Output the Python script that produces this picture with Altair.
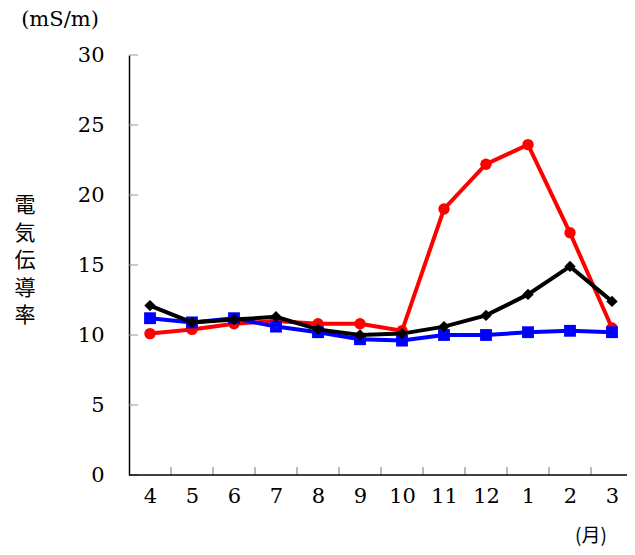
import altair as alt
import pandas as pd

months = ["4", "5", "6", "7", "8", "9", "10", "11", "12", "1", "2", "3"]
red_vals = [10.1, 10.4, 10.8, 11.0, 10.8, 10.8, 10.3, 19.0, 22.2, 23.6, 17.3, 10.5]
blue_vals = [11.2, 10.9, 11.2, 10.6, 10.2, 9.7, 9.6, 10.0, 10.0, 10.2, 10.3, 10.2]
black_vals = [12.1, 10.9, 11.1, 11.3, 10.4, 10.0, 10.1, 10.6, 11.4, 12.9, 14.9, 12.4]
y_ticks = [0, 5, 10, 15, 20, 25, 30]

W, H = 498, 420
X0, X1 = 21, 483
step = (X1 - X0) / (len(months) - 1)
SERIF = "DejaVu Serif"
CJK = "Noto Sans CJK JP"

series = [
    ("red", red_vals, "#ff0000", "circle", 130),
    ("blue", blue_vals, "#0000ff", "square", 140),
    ("black", black_vals, "#000000", "diamond", 130),
]

rows = []
for name, vals, *_ in series:
    for m, v in zip(months, vals):
        rows.append({"series": name, "month": m, "value": v})
df = pd.DataFrame(rows)

x_enc = alt.X(
    "month:O", sort=months, title=None,
    scale=alt.Scale(type="point", domain=months, range=[X0, X1], padding=0),
    axis=alt.Axis(labelAngle=0, ticks=False, tickSize=0, labelPadding=27, domain=False,
                  labelBaseline="alphabetic", labelFont=SERIF, labelFontSize=21,
                  labelColor="black", grid=False),
)
y_enc = alt.Y(
    "value:Q", title=None,
    scale=alt.Scale(domain=[0, 30], nice=False),
    axis=alt.Axis(values=y_ticks, ticks=False, tickSize=0, labelPadding=25,
                  labelFont=SERIF, labelFontSize=21, labelColor="black",
                  domainColor="black", domainWidth=1.5, grid=False),
)

layers = []
for name, vals, color, shape, size in series:
    base = alt.Chart(df).transform_filter(alt.datum.series == name)
    layers.append(base.mark_line(color=color, strokeWidth=4).encode(x=x_enc, y=y_enc))
    layers.append(base.mark_point(color=color, shape=shape, size=size, filled=True, opacity=1)
                  .encode(x=x_enc, y=y_enc))

xt = pd.DataFrame({"month": months[:-1]})
x_ticks_layer = alt.Chart(xt).mark_rule(color="#777777", strokeWidth=1, xOffset=step / 2).encode(
    x=x_enc, y=alt.value(H), y2=alt.value(H - 8),
)
yt = pd.DataFrame({"value": y_ticks})
y_ticks_layer = alt.Chart(yt).mark_rule(color="#999999", strokeWidth=1).encode(
    y=y_enc, x=alt.value(0), x2=alt.value(9),
)

one = pd.DataFrame({"a": [0]})
x_domain = alt.Chart(one).mark_rule(color="black", strokeWidth=1.5).encode(
    x=alt.value(0), x2=alt.value(W), y=alt.value(H))
unit_text = alt.Chart(one).mark_text(text="(mS/m)", font=SERIF, fontSize=21, align="center",
                                     baseline="middle", color="black").encode(
    x=alt.value(-69), y=alt.value(-35))
ytitle = alt.Chart(one).mark_text(text="電\n気\n伝\n導\n率", lineBreak="\n", lineHeight=27.5,
                                  font=CJK, fontSize=21, align="center", baseline="middle",
                                  color="black").encode(x=alt.value(-104), y=alt.value(151))
month_text = alt.Chart(one).mark_text(text="(月)", font=CJK, fontSize=19, align="center",
                                      baseline="middle", color="black").encode(
    x=alt.value(462), y=alt.value(H + 61))

chart = alt.layer(*layers, y_ticks_layer, x_ticks_layer, x_domain, unit_text, ytitle,
                  month_text).properties(
    width=W, height=H,
    autosize=alt.AutoSizeParams(type="none"),
    padding={"left": 121, "top": 47, "right": 0, "bottom": 72},
).configure_view(stroke=None)

chart.save("out.html", embed_options={"renderer": "svg", "actions": False})
